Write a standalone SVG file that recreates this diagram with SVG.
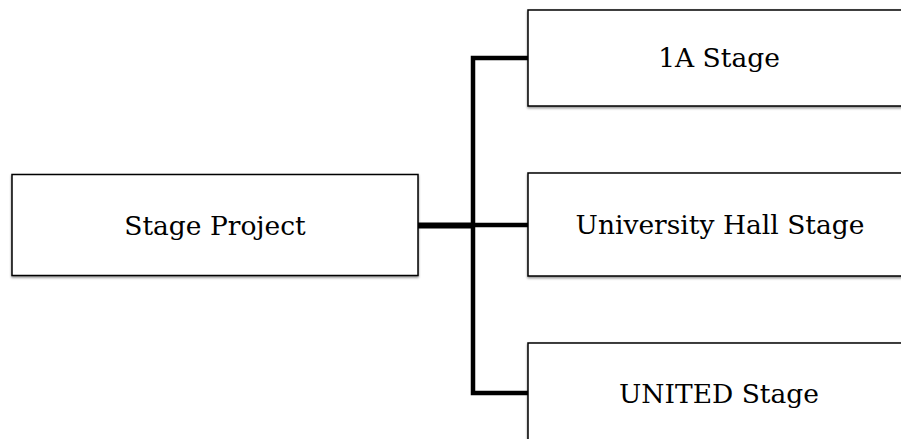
<svg xmlns="http://www.w3.org/2000/svg" width="901" height="439" viewBox="0 0 901 439">
  <style>
    .box { fill: #ffffff; stroke: #000000; stroke-width: 1.5; filter: url(#sh); }
    .lbl { font-family: "DejaVu Serif", "Liberation Serif", serif; font-size: 26.5px; fill: #000000; text-anchor: middle; }
    .conn { fill: none; stroke: #000000; stroke-width: 4.5; stroke-linecap: butt; stroke-linejoin: miter; }
  </style>
  <defs>
    <filter id="sh" x="-5%" y="-5%" width="110%" height="120%">
      <feDropShadow dx="0" dy="1.5" stdDeviation="1" flood-color="#000000" flood-opacity="0.45"/>
    </filter>
  </defs>
  <rect width="901" height="439" fill="#ffffff"/>
  <g id="connectors">
    <path class="conn" d="M418 225.5 H473" style="stroke-width:6"/>
    <path class="conn" d="M528 58 H473 V393 H528"/>
    <path class="conn" d="M473 225 H528"/>
  </g>
  <g id="node-stage-project">
    <rect class="box" x="12" y="174.5" width="406" height="101"/>
    <text class="lbl" x="215" y="235">Stage Project</text>
  </g>
  <g id="node-1a-stage">
    <rect class="box" x="528" y="10" width="383" height="96"/>
    <text class="lbl" x="719" y="67">1A Stage</text>
  </g>
  <g id="node-university-hall-stage">
    <rect class="box" x="528" y="173" width="383" height="103"/>
    <text class="lbl" x="720" y="234">University Hall Stage</text>
  </g>
  <g id="node-united-stage">
    <rect class="box" x="528" y="343" width="383" height="103"/>
    <text class="lbl" x="719" y="403">UNITED Stage</text>
  </g>
</svg>
